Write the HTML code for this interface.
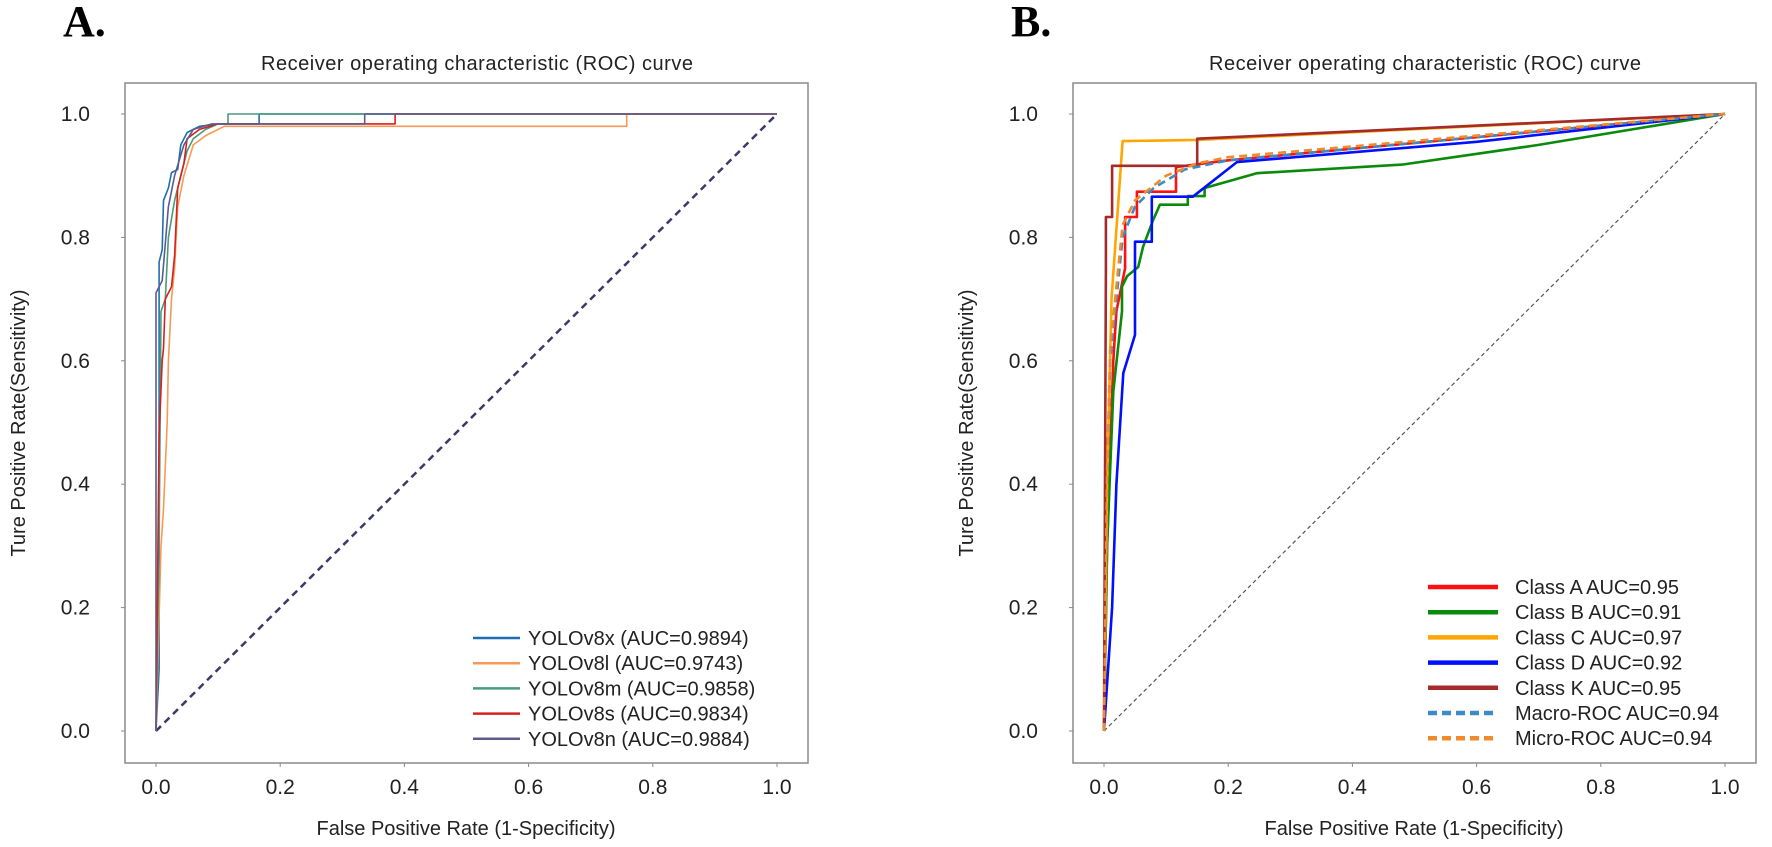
<!DOCTYPE html>
<html><head><meta charset="utf-8"><style>
html,body{margin:0;padding:0;background:#fff;}
svg{display:block;font-family:"Liberation Sans",Arial,sans-serif;}
</style></head><body>
<svg id="fig" width="1772" height="847" viewBox="0 0 1772 847" xmlns="http://www.w3.org/2000/svg"></svg>
<script>
// ---- Panel A data ----
const ticks = [0, 0.2, 0.4, 0.6, 0.8, 1.0];
const tickLabels = ["0.0", "0.2", "0.4", "0.6", "0.8", "1.0"];
const aNames = ["YOLOv8x (AUC=0.9894)", "YOLOv8l (AUC=0.9743)", "YOLOv8m (AUC=0.9858)", "YOLOv8s (AUC=0.9834)", "YOLOv8n (AUC=0.9884)"];
const aColors = ["#1f6fb0", "#f59a55", "#4a9a7c", "#d62020", "#5c5c8c"];
const aX_x = [0,0.005,0.005,0.01,0.012,0.02,0.025,0.035,0.04,0.05,0.07,0.1,0.166,0.166,1];
const aX_y = [0,0.1,0.76,0.78,0.86,0.88,0.905,0.91,0.95,0.97,0.98,0.984,0.984,1,1];
const aL_x = [0,0.008,0.012,0.018,0.02,0.025,0.03,0.035,0.045,0.06,0.08,0.11,0.758,0.758,1];
const aL_y = [0,0.3,0.36,0.5,0.6,0.7,0.75,0.85,0.9,0.95,0.965,0.98,0.98,1,1];
const aM_x = [0,0.005,0.008,0.015,0.02,0.03,0.04,0.05,0.06,0.08,0.1,0.116,0.116,1];
const aM_y = [0,0.3,0.68,0.7,0.8,0.86,0.9,0.94,0.96,0.975,0.984,0.984,1,1];
const aS_x = [0,0.005,0.01,0.012,0.015,0.025,0.03,0.035,0.045,0.05,0.07,0.1,0.385,0.385,1];
const aS_y = [0,0.48,0.6,0.62,0.7,0.72,0.77,0.88,0.92,0.96,0.975,0.984,0.984,1,1];
const aN_x = [0,0,0.01,0.02,0.03,0.045,0.06,0.09,0.336,0.336,1];
const aN_y = [0,0.71,0.73,0.85,0.9,0.95,0.975,0.984,0.984,1,1];
// ---- Panel B data ----
const bNames = ["Class A AUC=0.95","Class B AUC=0.91","Class C AUC=0.97","Class D AUC=0.92","Class K AUC=0.95","Macro-ROC AUC=0.94","Micro-ROC AUC=0.94"];
const bColors = ["#ff1010","#0a8a0a","#ffa500","#0010ff","#a52a2a","#3d8bc4","#f08a2a"];
const bA_x = [0,0.005,0.015,0.02,0.034,0.034,0.053,0.053,0.116,0.116,0.2,1];
const bA_y = [0,0.3,0.6,0.68,0.75,0.833,0.833,0.874,0.874,0.914,0.925,1];
const bB_x = [0,0.005,0.015,0.029,0.029,0.037,0.055,0.063,0.079,0.09,0.135,0.135,0.162,0.162,0.246,0.48,0.7,1];
const bB_y = [0,0.3,0.55,0.68,0.72,0.737,0.752,0.785,0.828,0.853,0.853,0.867,0.867,0.88,0.904,0.918,0.95,1];
const bC_x = [0,0.005,0.012,0.03,0.15,0.43,1];
const bC_y = [0,0.4,0.70,0.956,0.958,0.972,1];
const bD_x = [0,0.013,0.02,0.031,0.05,0.05,0.077,0.077,0.143,0.214,0.6,1];
const bD_y = [0,0.2,0.4,0.58,0.642,0.793,0.793,0.866,0.866,0.922,0.955,1];
const bK_x = [0,0.003,0.003,0.013,0.013,0.15,0.15,1];
const bK_y = [0,0.75,0.833,0.833,0.916,0.916,0.96,1];
const bMac_x = [0,0.005,0.01,0.03,0.05,0.08,0.13,0.2,1];
const bMac_y = [0,0.4,0.6,0.8,0.85,0.88,0.91,0.925,1];
const bMic_x = [0,0.005,0.01,0.03,0.05,0.1,0.15,0.2,1];
const bMic_y = [0,0.42,0.62,0.82,0.86,0.9,0.92,0.93,1];

const NS = "http://www.w3.org/2000/svg";
const svg = document.getElementById("fig");
function mk(tag, attrs, parent){ const e=document.createElementNS(NS,tag); for(const k in attrs) e.setAttribute(k,attrs[k]); (parent||svg).appendChild(e); return e; }

function panel(off, letter, series, names, colors, opts){
  const x0=156+off, unit=621, y0=731;
  const sx=v=>x0+v*unit, sy=v=>y0-v*617;
  const g=mk("g",{});
  
  
  const lab=mk("text",{x:63+off,y:36,"font-family":"Liberation Serif,serif","font-weight":"bold","font-size":44,fill:"#000"},g);
  lab.textContent=letter+".";
  
  
  const t=mk("text",{x:477+off,y:70,"text-anchor":"middle","font-size":20,fill:"#222",textLength:432},g);
  t.textContent="Receiver operating characteristic (ROC) curve";
  
  
  const fr=mk("rect",{x:125+off,y:83,width:683,height:680,fill:"none",stroke:"#8a8a8a","stroke-width":1.5},g);
  
  
  ticks.forEach((v,i)=>{
    mk("line",{x1:121+off,x2:125+off,y1:sy(v),y2:sy(v),stroke:"#888"},g);
    const yl=mk("text",{x:90+off,y:sy(v)+7,"text-anchor":"end","font-size":21,fill:"#222"},g);
    yl.textContent=tickLabels[i];
    
    
    mk("line",{x1:sx(v),x2:sx(v),y1:763,y2:767,stroke:"#888"},g);
    const xl=mk("text",{x:sx(v),y:794,"text-anchor":"middle","font-size":21,fill:"#222"},g);
    xl.textContent=tickLabels[i];
    
    
  });
  const xt=mk("text",{x:466+off,y:835,"text-anchor":"middle","font-size":20,fill:"#222"},g);
  xt.textContent="False Positive Rate (1-Specificity)";
  
  
  const yt=mk("text",{x:0,y:0,"text-anchor":"middle","font-size":20,fill:"#222",transform:`translate(${25+off},423) rotate(-90)`},g);
  yt.textContent="Ture Positive Rate(Sensitivity)";
  
  
  const dg=mk("line",{x1:sx(0),y1:sy(0),x2:sx(1),y2:sy(1),stroke:opts.diagColor,"stroke-width":opts.diagW,"stroke-dasharray":opts.diagDash},g);
  
  
  series.forEach((s,i)=>{
    const pts=s[0].map((v,j)=>sx(v).toFixed(1)+","+sy(s[1][j]).toFixed(1)).join(" ");
    const pl=mk("polyline",{points:pts,fill:"none",stroke:colors[i],"stroke-width":opts.w,"stroke-linejoin":"round"},g);
    if(opts.dashed && opts.dashed[i]) pl.setAttribute("stroke-dasharray","8,5");
    
    
  });
  names.forEach((n,i)=>{
    const ly=opts.legY0+i*25.2;
    const ll=mk("line",{x1:opts.legX1+off,x2:opts.legX2+off,y1:ly,y2:ly,stroke:colors[i],"stroke-width":opts.legW},g);
    if(opts.dashed && opts.dashed[i]) ll.setAttribute("stroke-dasharray","9,5");
    
    
    const lt=mk("text",{x:opts.legTX+off,y:ly+7,"font-size":20,fill:"#222"},g);
    lt.textContent=n;
    
    
  });
}
panel(0,"A",[[aX_x,aX_y],[aL_x,aL_y],[aM_x,aM_y],[aS_x,aS_y],[aN_x,aN_y]],aNames,aColors,
  {w:1.6,diagColor:"#3a3a6a",diagW:2.5,diagDash:"7,5",legY0:638,legX1:473,legX2:520,legW:2.5,legTX:528});
panel(948,"B",[[bA_x,bA_y],[bB_x,bB_y],[bC_x,bC_y],[bD_x,bD_y],[bK_x,bK_y],[bMac_x,bMac_y],[bMic_x,bMic_y]],bNames,bColors,
  {w:2.6,diagColor:"#555",diagW:1.2,diagDash:"4,3",legY0:587,legX1:480,legX2:550,legW:4.5,legTX:567,dashed:[0,0,0,0,0,1,1]});
</script>
</body></html>
